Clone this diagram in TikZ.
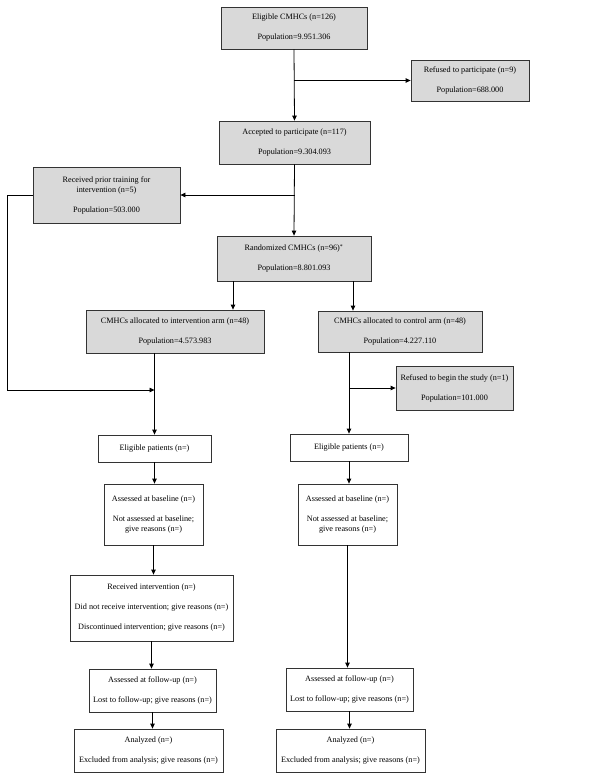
\documentclass[tikz,border=0pt]{standalone}
\usepackage{fontspec}
\setmainfont{Liberation Serif}
\usetikzlibrary{arrows.meta,positioning,calc}
\definecolor{boxgray}{HTML}{D9D9D9}
\definecolor{frameline}{HTML}{333333}

\begin{document}
\begin{tikzpicture}[x=1pt,y=-1pt,
  box/.style={draw=frameline,line width=0.8pt,align=center,inner sep=2pt,
    font=\fontsize{8.2}{10}\selectfont},
  graybox/.style={box,fill=boxgray},
  arrow/.style={-{Triangle[length=5pt,width=4.5pt]},line width=0.8pt,draw=black}
]
\useasboundingbox (0,0) rectangle (600,779);
% screening and randomisation
\node[graybox,minimum width=146pt,minimum height=42pt] (elig) at (294,28)
  {Eligible CMHCs (n=126)\\[10pt]Population=9.951.306};
\node[graybox,minimum width=118pt,minimum height=41pt] (refused) at (470,80.5)
  {Refused to participate (n=9)\\[10pt]Population=688.000};
\node[graybox,minimum width=151pt,minimum height=43pt] (accept) at (294.5,142.5)
  {Accepted to participate (n=117)\\[10pt]Population=9.304.093};
\node[graybox,minimum width=147pt,minimum height=56pt] (prior) at (106.5,195)
  {Received prior training for\\intervention (n=5)\\[10pt]Population=503.000};
\node[graybox,minimum width=154pt,minimum height=45pt] (random) at (294,258.5)
  {Randomized CMHCs (n=96)\textsuperscript{*}\\[10pt]Population=8.801.093};
\node[graybox,minimum width=178pt,minimum height=43pt] (allocI) at (175,331.5)
  {CMHCs allocated to intervention arm (n=48)\\[10pt]Population=4.573.983};
\node[graybox,minimum width=164pt,minimum height=41pt] (allocC) at (400,331.5)
  {CMHCs allocated to control arm (n=48)\\[10pt]Population=4.227.110};
\node[graybox,minimum width=117pt,minimum height=44pt] (refbegin) at (454.5,388)
  {Refused to begin the study (n=1)\\[10pt]Population=101.000};
% patient flow, intervention arm
\node[box,minimum width=113pt,minimum height=27pt] (eligI) at (154.5,448.5)
  {Eligible patients (n=)};
\node[box,minimum width=99pt,minimum height=61pt] (baseI) at (153.5,514.5)
  {Assessed at baseline (n=)\\[10pt]Not assessed at baseline;\\give reasons (n=)};
\node[box,minimum width=163pt,minimum height=66pt] (recv) at (151.5,608)
  {Received intervention (n=)\\[10pt]Did not receive intervention; give reasons (n=)\\[10pt]Discontinued intervention; give reasons (n=)};
\node[box,minimum width=127pt,minimum height=43pt] (followI) at (152.5,690.5)
  {Assessed at follow-up (n=)\\[10pt]Lost to follow-up; give reasons (n=)};
\node[box,minimum width=149pt,minimum height=43pt] (analI) at (148.5,750.5)
  {Analyzed (n=)\\[10pt]Excluded from analysis; give reasons (n=)};
% patient flow, control arm
\node[box,minimum width=118pt,minimum height=27pt] (eligC) at (349,447.5)
  {Eligible patients (n=)};
\node[box,minimum width=99pt,minimum height=61pt] (baseC) at (347.5,514.5)
  {Assessed at baseline (n=)\\[10pt]Not assessed at baseline;\\give reasons (n=)};
\node[box,minimum width=127pt,minimum height=43pt] (followC) at (349.5,689.5)
  {Assessed at follow-up (n=)\\[10pt]Lost to follow-up; give reasons (n=)};
\node[box,minimum width=149pt,minimum height=43pt] (analC) at (350.5,750.5)
  {Analyzed (n=)\\[10pt]Excluded from analysis; give reasons (n=)};
\coordinate (joinI) at (eligI.north |- 0,390);
% connectors
\draw[arrow] (elig.south) -- (accept.north);
\draw[arrow] (elig.south |- refused.west) -- (refused.west);
\draw[arrow] (accept.south) -- (random.north);
\draw[arrow] (accept.south |- prior.east) -- (prior.east);
\draw[arrow] ([xshift=-61pt]random.south) -- ([xshift=-61pt]random.south |- allocI.north);
\draw[arrow] ([xshift=59pt]random.south) -- ([xshift=59pt]random.south |- allocC.north);
\draw[arrow] (prior.west) -- ++(-25,0) |- (joinI);
\draw[arrow] (eligI.north |- allocI.south) -- (eligI.north);
\draw[arrow] (eligC.north |- allocC.south) -- (eligC.north);
\draw[arrow] (eligC.north |- refbegin.west) -- (refbegin.west);
\draw[arrow] (eligI.south) -- (eligI.south |- baseI.north);
\draw[arrow] (eligC.south) -- (eligC.south |- baseC.north);
\draw[arrow] (baseI.south) -- (baseI.south |- recv.north);
\draw[arrow] (recv.south) -- (recv.south |- followI.north);
\draw[arrow] (followI.south) -- (followI.south |- analI.north);
\draw[arrow] (baseC.south) -- (baseC.south |- followC.north);
\draw[arrow] (followC.south) -- (followC.south |- analC.north);
\end{tikzpicture}
\end{document}
